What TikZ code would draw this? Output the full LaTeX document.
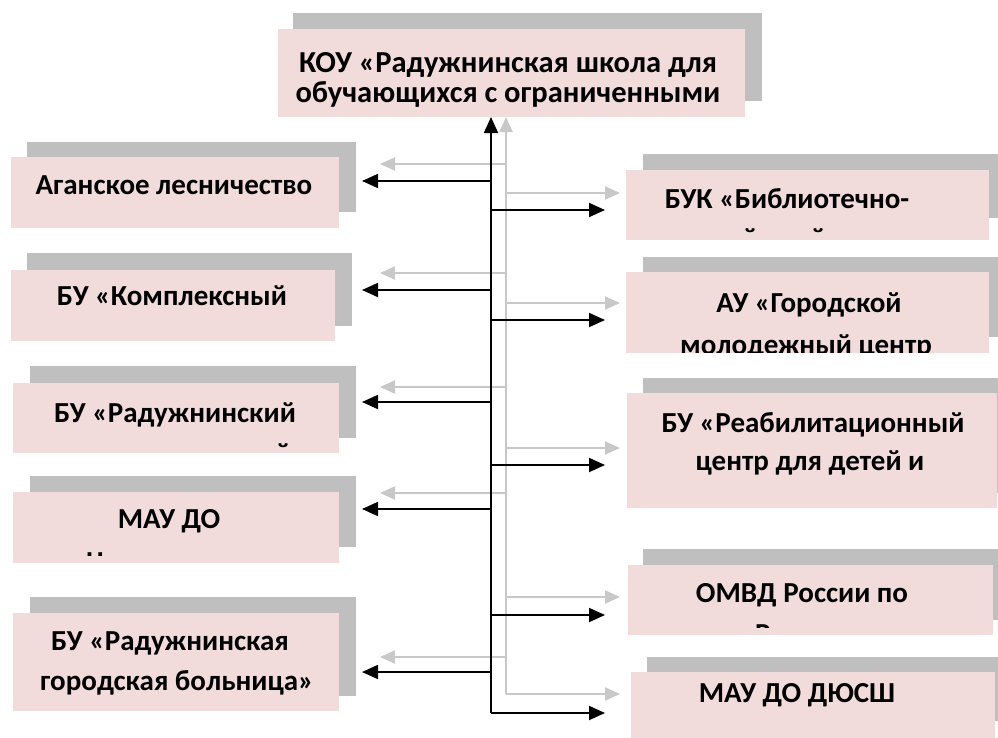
\documentclass[tikz,border=0pt]{standalone}
\usepackage{fontspec}
\setmainfont{Carlito}
\usetikzlibrary{arrows.meta}
\definecolor{boxpink}{HTML}{F2DCDB}
\definecolor{shadowgray}{HTML}{BFBFBF}
\definecolor{linegray}{HTML}{C8C8C8}
% \orgbox{name}{sx1}{sy1}{sx2}{sy2}{px1}{py1}{px2}{py2}
\newcommand\orgbox[9]{%
  \node[shadowbox, anchor=north west, minimum width={(#4-#2)*1pt}, minimum height={(#5-#3)*1pt}] (#1s) at (#2,#3) {};
  \node[pinkbox, anchor=north west, minimum width={(#8-#6)*1pt}, minimum height={(#9-#7)*1pt}] (#1) at (#6,#7) {};
}
\begin{document}
\begin{tikzpicture}[x=1pt,y=-1pt,
  shadowbox/.style={fill=shadowgray, draw=none, inner sep=0pt, outer sep=0pt},
  pinkbox/.style={fill=boxpink, draw=none, inner sep=0pt, outer sep=0pt},
  txt/.style={anchor=base, inner sep=0pt, font=\bfseries\fontsize{29}{29}\selectfont},
  toptxt/.style={anchor=base, inner sep=0pt, font=\bfseries\fontsize{30.5}{30.5}\selectfont},
  blk/.style={draw=black, line width=1.8pt, -{Triangle[length=16pt,width=14pt]}},
  gry/.style={draw=linegray, line width=2pt, -{Triangle[length=15pt,width=13pt]}},
]
\useasboundingbox (0,0) rectangle (998,737);
\clip (0,0) rectangle (998,737);

% boxes
\orgbox{top}{293}{13}{762}{101}{278}{29}{745}{117}
\orgbox{la}{27}{142}{356}{212}{11}{157}{339}{228}
\orgbox{lb}{27}{253}{352}{326}{11}{270}{335}{341}
\orgbox{lc}{30}{366}{356}{438}{13}{383}{339}{453}
\orgbox{ld}{30}{476}{356}{547}{13}{492}{339}{563}
\orgbox{le}{30}{597}{356}{696}{13}{613}{339}{711}
\orgbox{ra}{643}{154}{1000}{218}{626}{170}{989}{240}
\orgbox{rb}{643}{257}{1000}{337}{626}{272}{989}{353}
\orgbox{rc}{643}{378}{1000}{493}{627}{393}{997}{508}
\orgbox{rd}{643}{549}{1000}{620}{628}{565}{993}{635}
\orgbox{re}{647}{657}{1000}{721}{631}{672}{995}{745}

% texts
\node[toptxt] (t1) at (508,72) {КОУ «Радужнинская школа для};
\node[toptxt] (t2) at (508,102) {обучающихся с ограниченными};
\node[txt] (la1) at (174,194) {Аганское лесничество};
\node[txt] (lb1) at (172,305) {БУ «Комплексный};
\node[txt] (lc1) at (175,422) {БУ «Радужнинский};
\node[txt] (ld1) at (169,528) {МАУ ДО};
\node[txt] (le1) at (170,650) {БУ «Радужнинская};
\node[txt] (le2) at (177,690) {городская больница»};
\node[txt] (ra1) at (787,208) {БУК «Библиотечно-};
\node[txt] (rb1) at (809,312) {АУ «Городской};
\begin{scope}
  \clip (626,272) rectangle (989,352);
  \node[txt] (rb2) at (806,354) {молодежный центр};
\end{scope}
\node[txt] (rc1) at (813,432) {БУ «Реабилитационный};
\node[txt] (rc2) at (810,470) {центр для детей и};
\node[txt] (rd1) at (802,602) {ОМВД России по};
\node[txt] (re1) at (797,702) {МАУ ДО ДЮСШ};

% clipped fragments of cut-off lines
\begin{scope}
  \clip (13,383) rectangle (339,447);
  \node[txt] (lcf) at (283,463) {й};
\end{scope}
\begin{scope}
  \clip (626,170) rectangle (989,232);
  \node[txt] (raf1) at (750,248) {й};
  \node[txt] (raf2) at (818,248) {й};
\end{scope}
\begin{scope}
  \clip (13,492) rectangle (339,555);
  \node[txt, anchor=base west] (ldf) at (86,571) {Ц};
\end{scope}
\begin{scope}
  \clip (628,565) rectangle (993,627);
  \node[txt, anchor=base west] (rdf) at (755,643) {Р};
\end{scope}

% spine coordinates
\coordinate (gtop) at (top.south -| 506,0);
\coordinate (gbot) at (506,694);
\coordinate (btop) at (top.south -| 491,0);
\coordinate (bbot) at (491,713);

% grey connectors
\draw[gry] (gbot) -- (gtop);
\draw[gry] (gbot) -- (620,694);
\foreach \y in {164,273,387,493,657} \draw[gry] (507,\y) -- (380,\y);
\foreach \y in {193,303,448,597} \draw[gry] (506,\y) -- (620,\y);

% black connectors
\draw[blk] (bbot) -- (btop);
\draw[blk] (bbot) -- (605,713);
\foreach \y in {181,290,402,509,672} \draw[blk] (491,\y) -- (362,\y);
\foreach \y in {210,320,465,615} \draw[blk] (491,\y) -- (605,\y);
\end{tikzpicture}
\end{document}
